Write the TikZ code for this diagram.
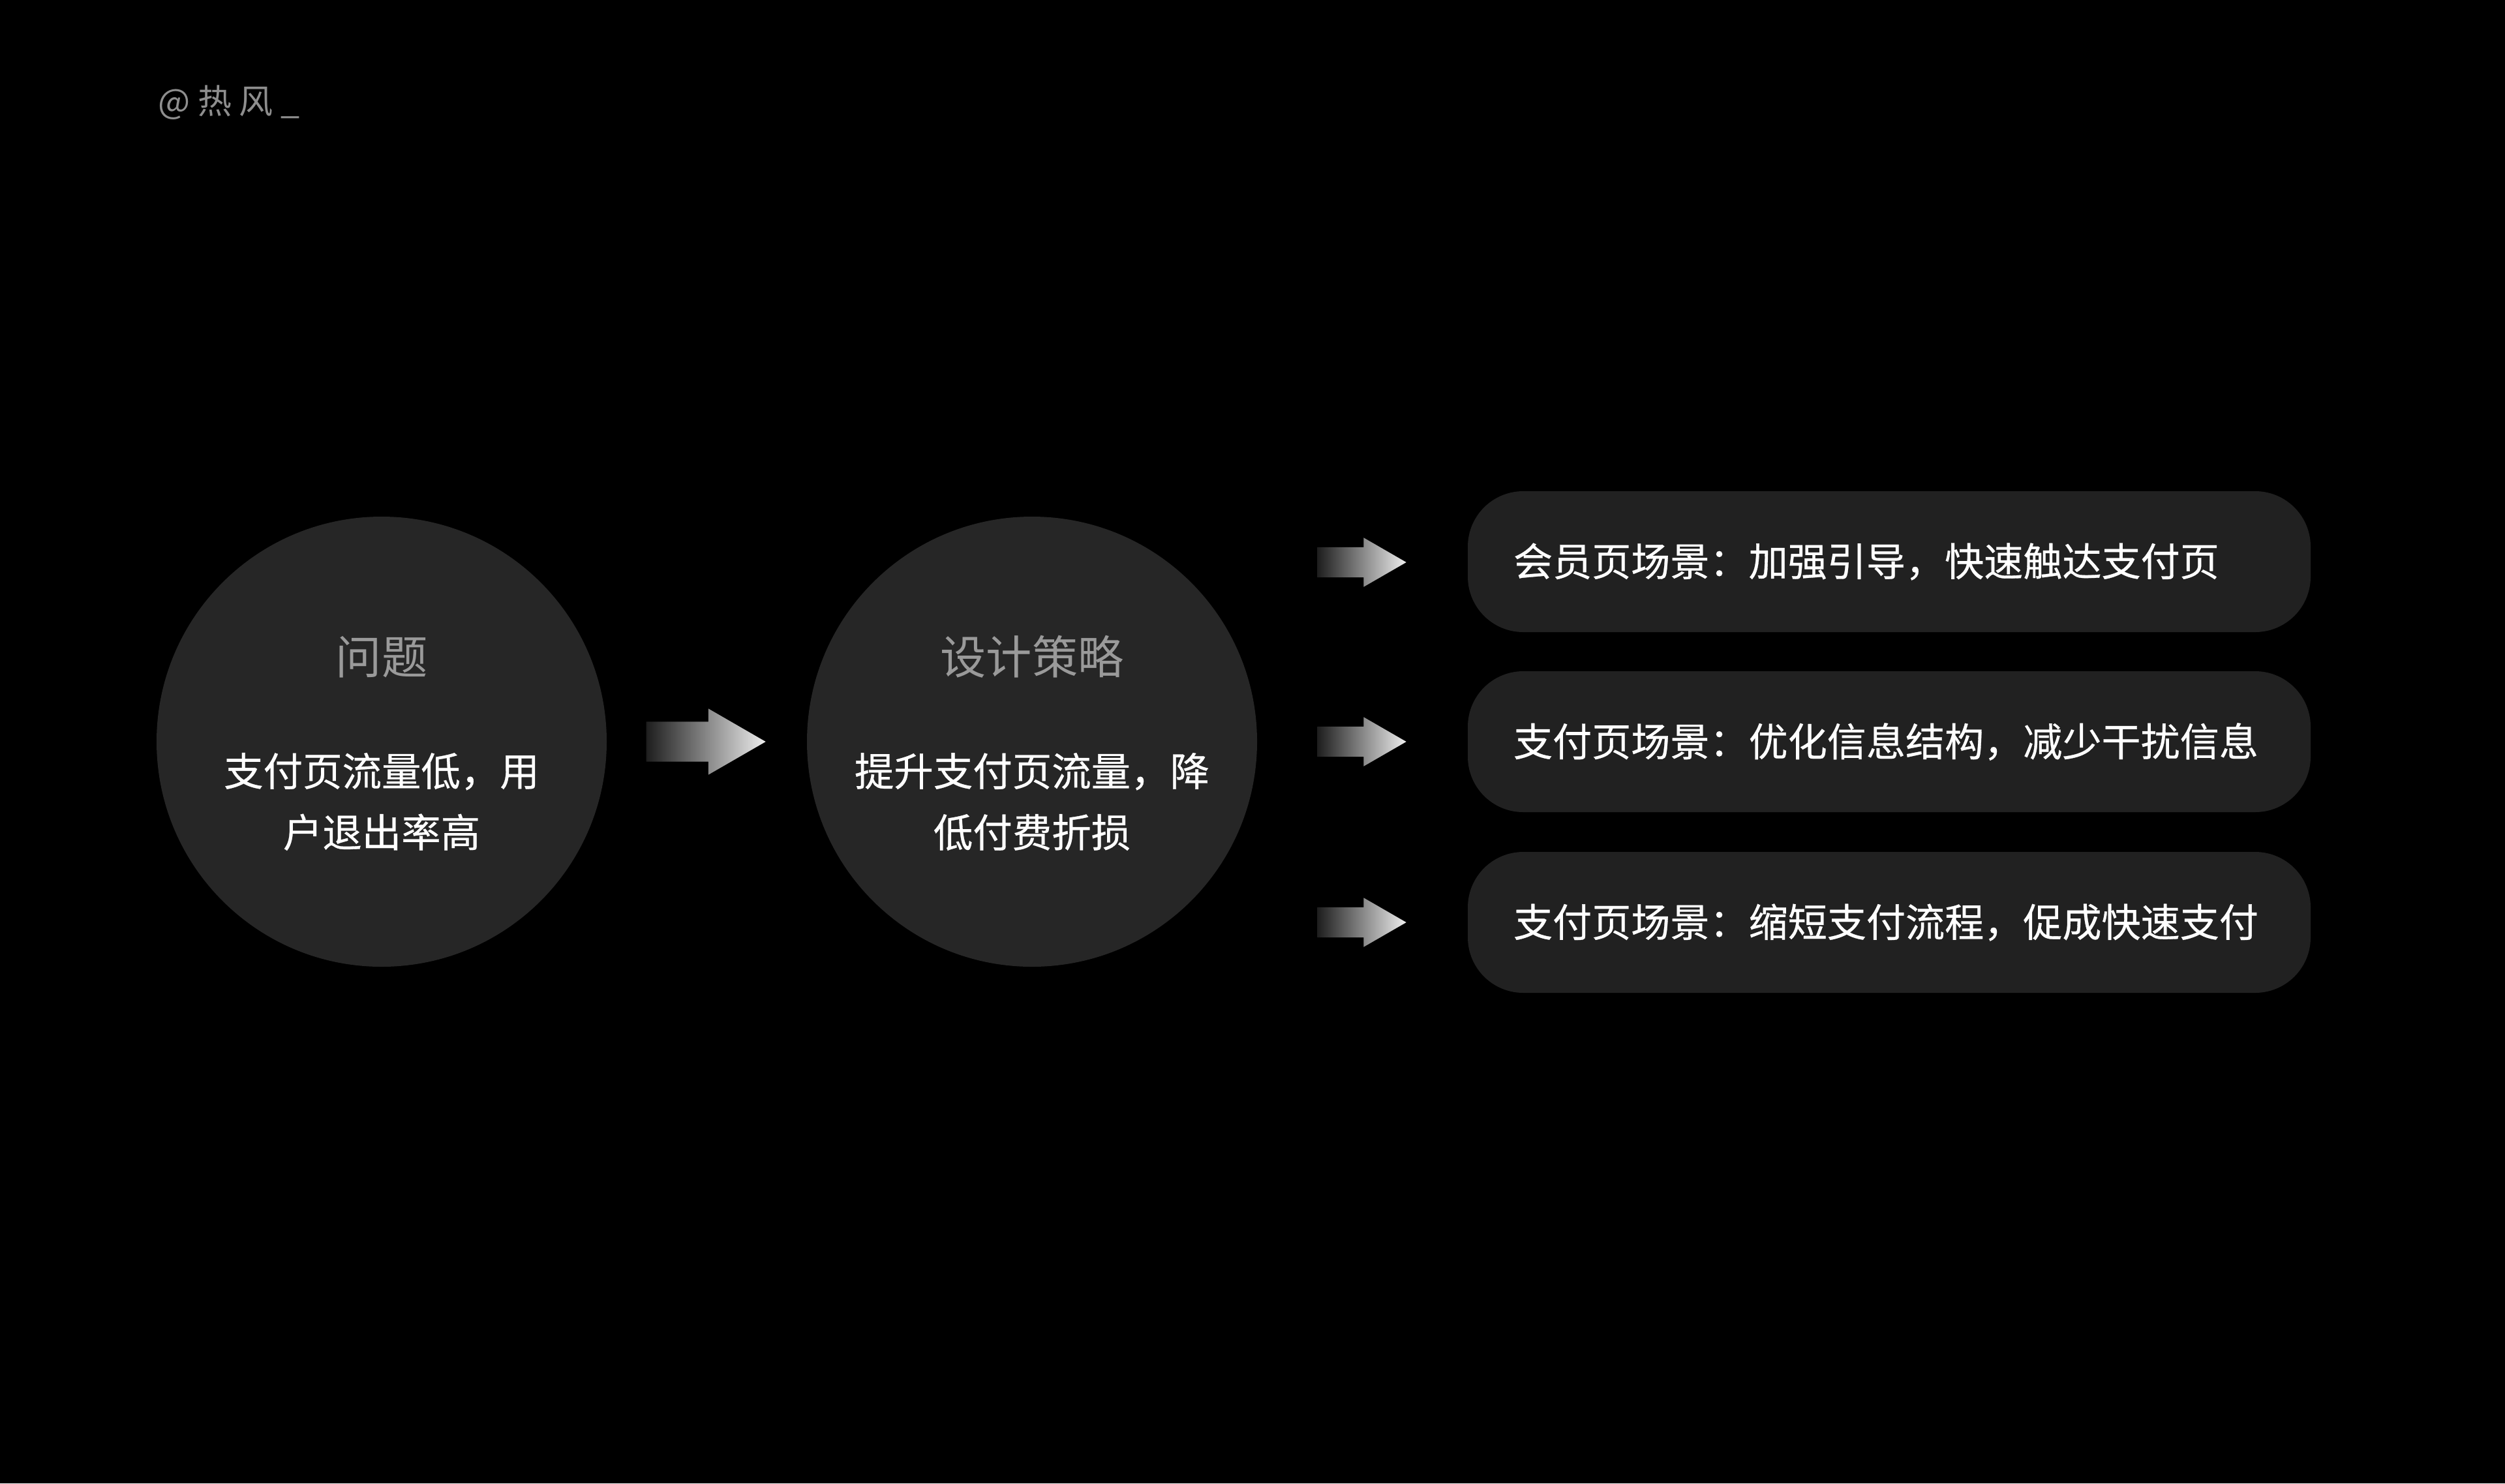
\documentclass[tikz,border=0pt]{standalone}
\usepackage{fontspec}
\setmainfont{Noto Sans CJK SC}
\newfontfamily\medfont{Noto Sans CJK SC}[FakeBold=0.5]
\usepackage{xcolor}
\usetikzlibrary{shapes.arrows, positioning}

\definecolor{discgray}{HTML}{262626}
\definecolor{boxgray}{HTML}{212121}
\definecolor{titlegray}{HTML}{9A9A9A}
\definecolor{markgray}{HTML}{8E8E8E}
\definecolor{arrowdark}{HTML}{1E1E1E}
\definecolor{arrowlight}{HTML}{EEEEEE}

\begin{document}
\begin{tikzpicture}[
  disc/.style={circle, fill=discgray, minimum size=6.9cm, inner sep=0pt},
  title/.style={text=titlegray, font=\fontsize{20}{24}\selectfont},
  body/.style={text=white, align=center, font=\medfont\fontsize{17.2}{26.7}\selectfont},
  scene/.style={rectangle, rounded corners=0.85cm, fill=boxgray, text=white,
    minimum height=2.16cm, text width=11.52cm, inner xsep=0.7cm, align=left,
    font=\medfont\fontsize{17.1}{20}\selectfont},
  gradarrow/.style={single arrow, anchor=tail, single arrow tip angle=60, single arrow head indent=0pt,
    inner xsep=0pt, left color=arrowdark, right color=arrowlight},
  bigarrow/.style={gradarrow, inner ysep=0.3cm, single arrow head extend=0.2cm, minimum height=1.83cm},
  smallarrow/.style={gradarrow, inner ysep=0.225cm, single arrow head extend=0.145cm, minimum height=1.36cm}
]
  % Background
  \fill[black] (0,0) rectangle (38.4,-22.74);
  \useasboundingbox (0,0) rectangle (38.4,-22.74);
  % Watermark
  \node[anchor=west, text=markgray, font=\fontsize{14.8}{18}\selectfont] (mark) at (2.3,-1.57) {@ 热 风 \_};
  % Circles
  \node[disc] (problem) at (5.85,-11.37) {};
  \node[title] (problemtitle) at (5.85,-10.07) {问题};
  \node[body] (problemtext) at (5.85,-12.29) {支付页流量低，用\\户退出率高};
  \node[disc] (strategy) at (15.82,-11.37) {};
  \node[title] (strategytitle) at (15.82,-10.07) {设计策略};
  \node[body] (strategytext) at (15.82,-12.29) {提升支付页流量，降\\低付费折损};
  % Arrow between the circles
  \node[bigarrow] (mainarrow) at (9.90,-11.37) {};
  % Scene arrows
  \node[smallarrow] (arrowa) at (20.19,-8.62) {};
  \node[smallarrow] (arrowb) at (20.19,-11.37) {};
  \node[smallarrow] (arrowc) at (20.19,-14.14) {};
  % Scene boxes
  \node[scene] (scenea) at (28.96,-8.61) {会员页场景：加强引导，快速触达支付页};
  \node[scene] (sceneb) at (28.96,-11.37) {支付页场景：优化信息结构，减少干扰信息};
  \node[scene] (scenec) at (28.96,-14.14) {支付页场景：缩短支付流程，促成快速支付};
\end{tikzpicture}
\end{document}
